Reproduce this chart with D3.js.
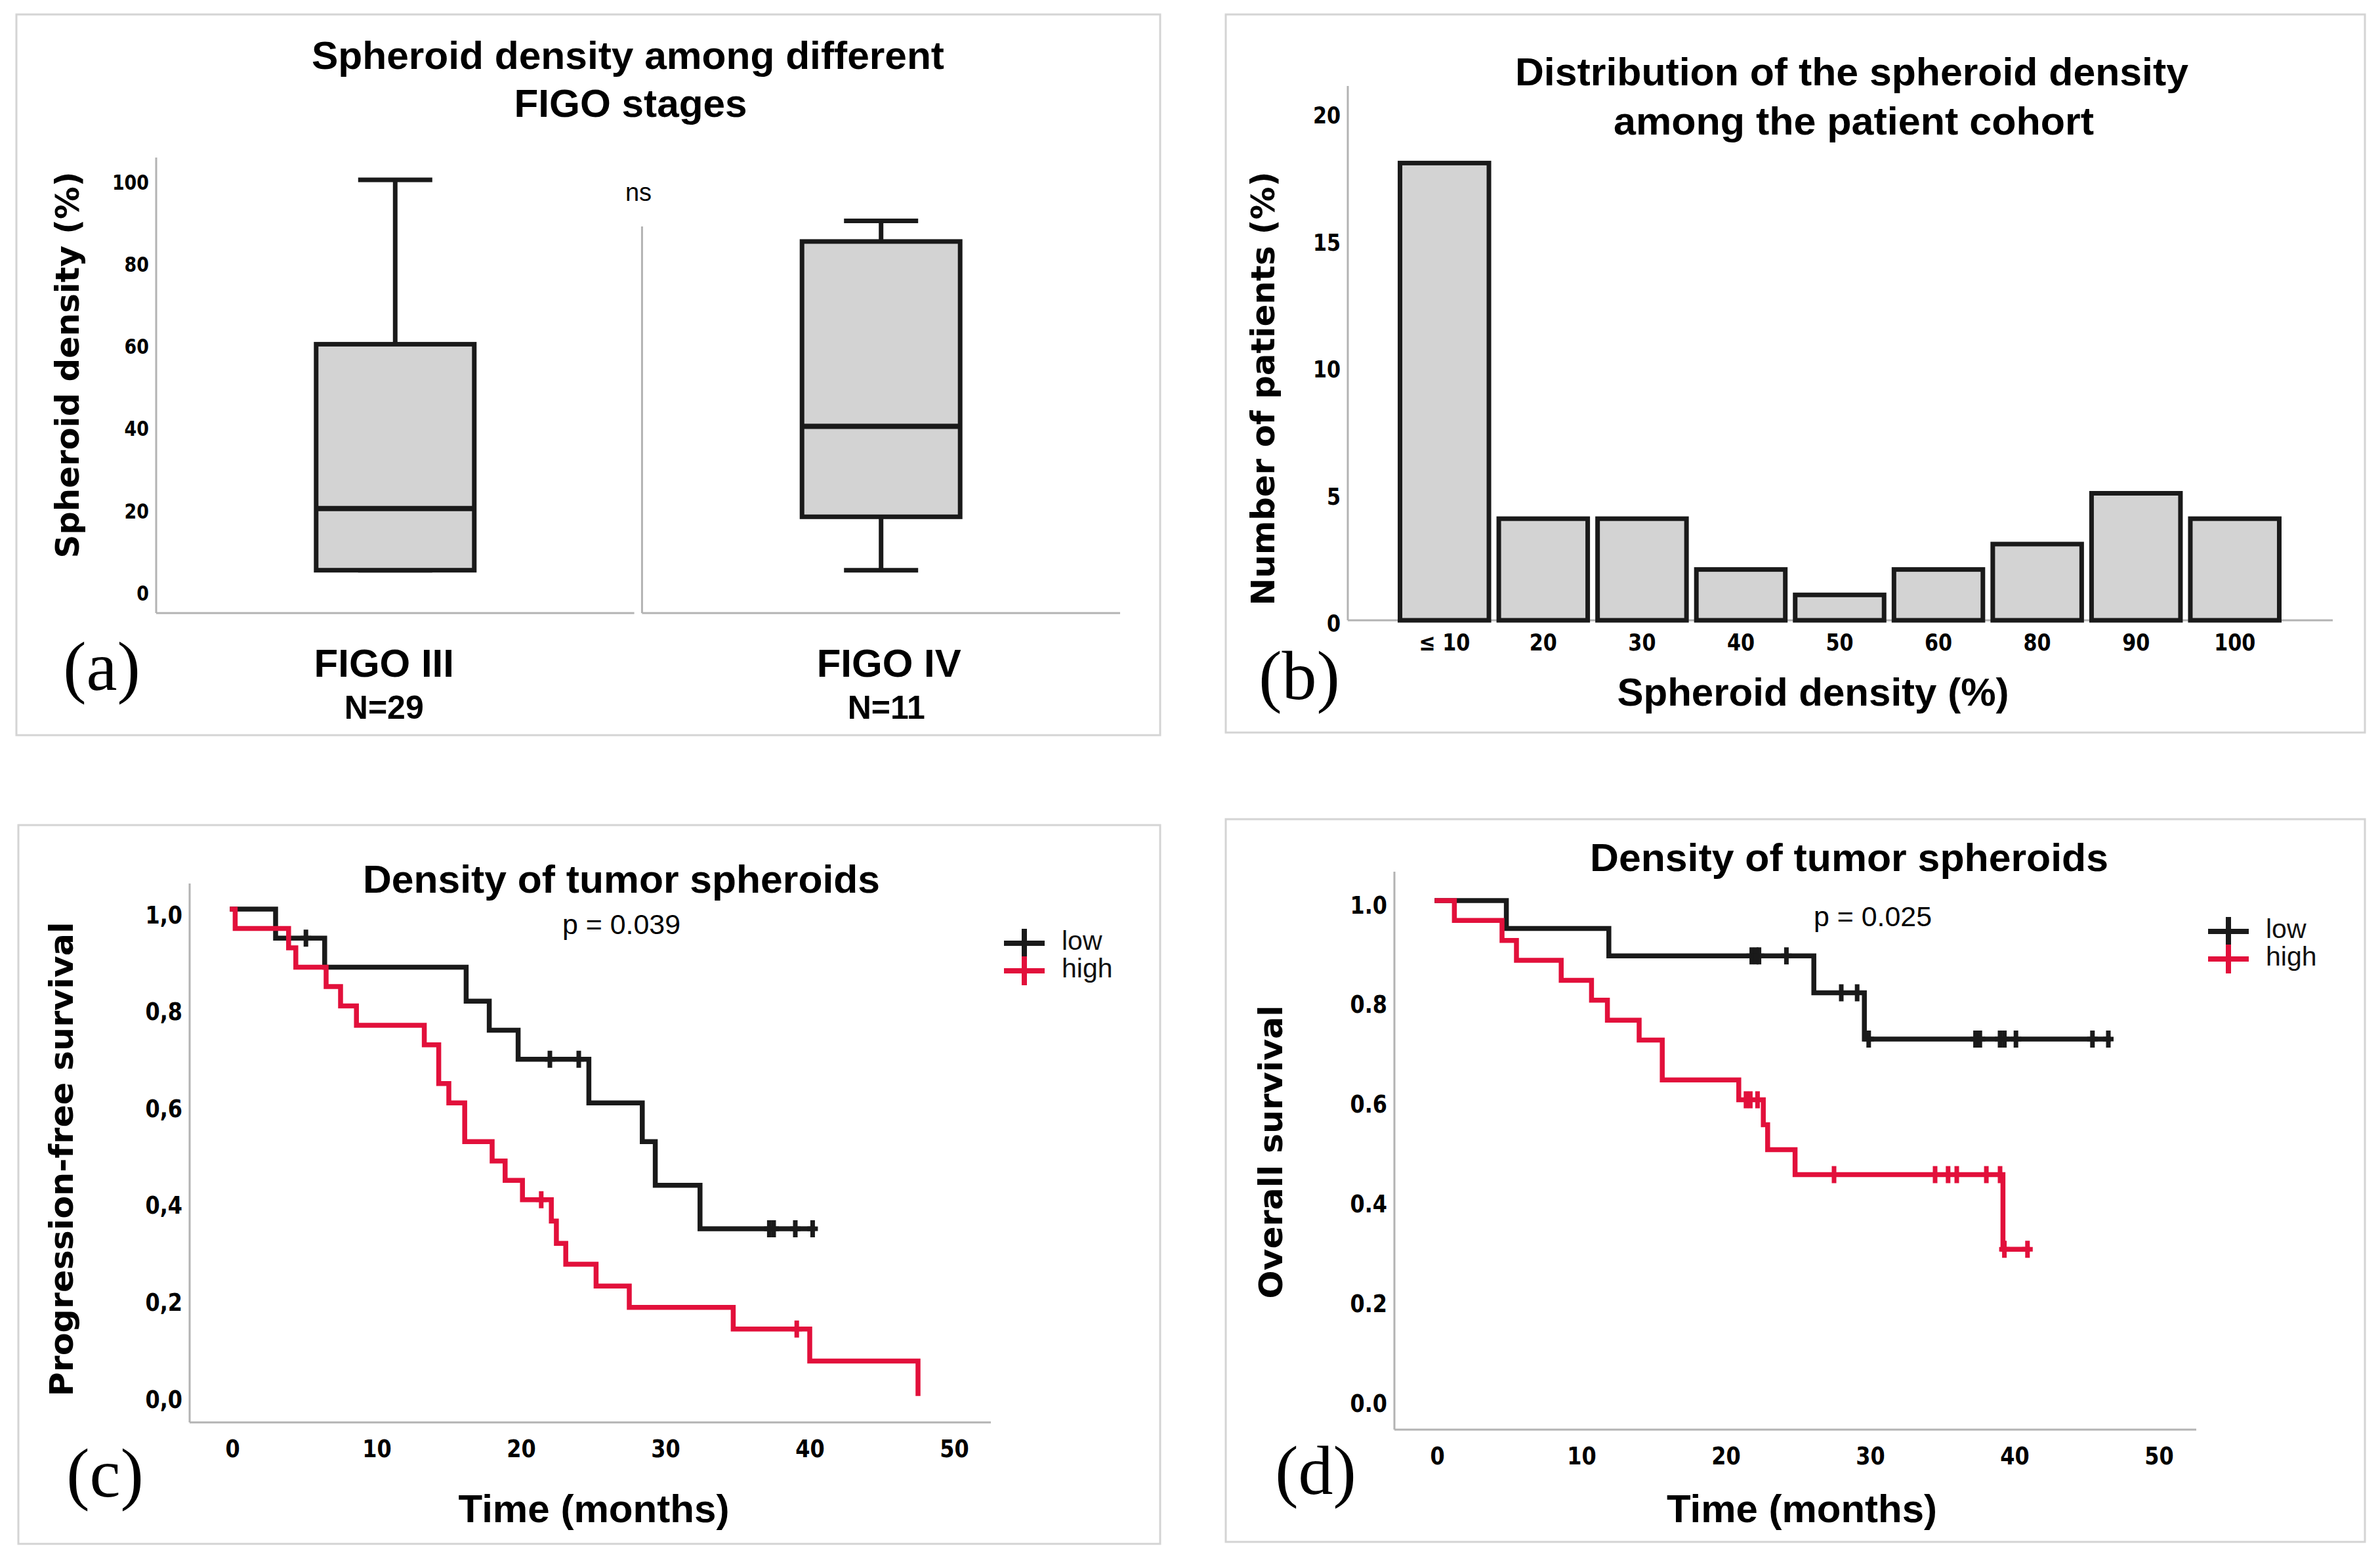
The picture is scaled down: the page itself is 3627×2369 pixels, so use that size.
<!DOCTYPE html>
<html>
<meta charset="utf-8">
<script src="https://d3js.org/d3.v7.min.js"></script>
<style>
  body { margin: 0; background: #fff; }
</style>
<body>
<div id="chart"></div>
<script>
// ---- values ----
// (a) box plot
var figoStages = ["FIGO III", "FIGO IV"];
var figoCounts = ["N=29", "N=11"];
var boxMin = [5, 5];
var boxQ1 = [5, 18];
var boxMedian = [20, 40];
var boxQ3 = [60, 85];
var boxMax = [100, 90];
var densityTicks = [0, 20, 40, 60, 80, 100];

// (b) histogram
var densityBins = ["\u2264 10", "20", "30", "40", "50", "60", "80", "90", "100"];
var patientCounts = [18, 4, 4, 2, 1, 2, 3, 5, 4];
var countTicks = [0, 5, 10, 15, 20];

// (c), (d) Kaplan-Meier
var groups = ["low", "high"];
var timeTicks = [0, 10, 20, 30, 40, 50];
var survivalTicks = [0, 0.2, 0.4, 0.6, 0.8, 1.0];

var pfsLowTimes = [3.0, 6.4, 16.2, 17.8, 19.8, 24.7, 28.4, 29.3, 32.4];
var pfsLowSurv = [0.94, 0.88, 0.81, 0.75, 0.69, 0.60, 0.52, 0.43, 0.34];
var pfsLowCensor = [5.1, 22.0, 24.0, 37.2, 37.5, 39.0, 40.2];

var pfsHighTimes = [0.2, 3.9, 4.4, 6.5, 7.5, 8.6, 13.3, 14.3, 15.0, 16.1, 18.0, 18.9, 20.1, 22.1, 22.45, 23.1, 25.2, 27.5, 34.7, 40.0, 47.5];
var pfsHighSurv = [0.96, 0.92, 0.88, 0.84, 0.80, 0.76, 0.72, 0.64, 0.60, 0.52, 0.48, 0.44, 0.40, 0.356, 0.31, 0.267, 0.222, 0.178, 0.133, 0.067, 0.0];
var pfsHighCensor = [21.4, 39.1];

var osLowTimes = [4.8, 11.9, 26.1, 29.6];
var osLowSurv = [0.944, 0.889, 0.815, 0.722];
var osLowCensor = [21.8, 22.1, 22.3, 24.2, 28.0, 29.1, 29.9, 37.3, 37.6, 39.0, 39.3, 40.1, 45.4, 46.5];

var osHighTimes = [1.2, 4.5, 5.5, 8.6, 10.7, 11.8, 14.0, 15.6, 20.9, 22.6, 22.9, 24.8, 39.2];
var osHighSurv = [0.96, 0.92, 0.88, 0.84, 0.80, 0.76, 0.72, 0.64, 0.60, 0.55, 0.50, 0.45, 0.30];
var osHighCensor = [21.4, 21.7, 22.2, 27.5, 34.5, 35.4, 36.0, 38.05, 39.0, 39.3, 40.9];

// ---- drawing ----
var W = 3627, H = 2369;
var SANS = "'Liberation Sans', Arial, sans-serif";
var WIDE = "'DejaVu Sans', Verdana, sans-serif";
var SERIF = "'Liberation Serif', 'Times New Roman', serif";
var AXIS = "#b3b3b3";
var FRAME = "#d4d4d4";
var FILL = "#d3d3d3";
var INK = "#1a1a1a";
var RED = "#e2103b";

var svg = d3.select("#chart").append("svg").attr("width", W).attr("height", H);
svg.append("rect").attr("width", W).attr("height", H).attr("fill", "#fff");

function frame(x0, y0, x1, y1) {
  svg.append("rect").attr("x", x0).attr("y", y0)
    .attr("width", x1 - x0).attr("height", y1 - y0)
    .attr("fill", "none").attr("stroke", FRAME).attr("stroke-width", 3);
}
function line(x0, y0, x1, y1, color, w) {
  svg.append("line").attr("x1", x0).attr("y1", y0).attr("x2", x1).attr("y2", y1)
    .attr("stroke", color || AXIS).attr("stroke-width", w || 3);
}
function txt(x, y, s, size, family, weight, width) {
  var t = svg.append("text").attr("x", x).attr("y", y)
    .attr("font-family", family).attr("font-size", size)
    .attr("font-weight", weight || "normal")
    .attr("text-anchor", "middle").attr("dominant-baseline", "central")
    .attr("fill", "#000").text(s);
  if (width) t.attr("textLength", width).attr("lengthAdjust", "spacingAndGlyphs");
  return t;
}
function ytitle(x, y, s, width) {
  txt(0, 0, s, 50, WIDE, "bold", width).attr("transform", "translate(" + x + "," + y + ") rotate(-90)");
}
function letter(x, y, s) {
  svg.append("text").attr("x", x).attr("y", y).attr("text-anchor", "middle")
    .attr("font-family", SERIF).attr("font-size", 106).text(s);
}
// tick labels: tall, slightly condensed bold
function styleAxis(g, size) {
  g.select(".domain").remove();
  g.selectAll("text").attr("font-family", WIDE).attr("font-weight", "bold")
    .attr("font-size", size).attr("fill", "#000")
    .each(function () {
      var len = this.getComputedTextLength();
      d3.select(this).attr("textLength", len * 0.84).attr("lengthAdjust", "spacingAndGlyphs");
    });
}

// ===== (a) =====
frame(25, 22, 1768, 1120);
txt(957, 84, "Spheroid density among different", 60, SANS, "bold", 964);
txt(961, 157, "FIGO stages", 60, SANS, "bold", 355);
ytitle(103, 556, "Spheroid density (%)", 589);

var aX = d3.scaleBand().domain(figoStages).range([238, 1707]).paddingInner(0.016);
var aY = d3.scaleLinear().domain([0, 100]).range([900, 274]);
var aTop = [240, 345];
var aLabelDx = [-17, 12];
figoStages.forEach(function (s, i) {
  var x0 = aX(s), x1 = x0 + aX.bandwidth();
  line(x0, aTop[i], x0, 934);
  line(x0, 934, x1, 934);
});
var gA = svg.append("g").attr("transform", "translate(238,4)")
  .call(d3.axisLeft(aY).tickValues(densityTicks).tickSize(0).tickPadding(11));
styleAxis(gA, 32);

var boxW = 241, capW = 113;
figoStages.forEach(function (s, i) {
  var cx = aX(s) + aX.bandwidth() / 2;
  line(cx, aY(boxMax[i]), cx, aY(boxQ3[i]), INK, 7);
  line(cx, aY(boxQ1[i]), cx, aY(boxMin[i]), INK, 7);
  line(cx - capW / 2, aY(boxMax[i]), cx + capW / 2, aY(boxMax[i]), INK, 7);
  line(cx - capW / 2, aY(boxMin[i]), cx + capW / 2, aY(boxMin[i]), INK, 7);
  svg.append("rect").attr("x", cx - boxW / 2).attr("y", aY(boxQ3[i]))
    .attr("width", boxW).attr("height", aY(boxQ1[i]) - aY(boxQ3[i]))
    .attr("fill", FILL).attr("stroke", INK).attr("stroke-width", 7);
  line(cx - boxW / 2, aY(boxMedian[i]), cx + boxW / 2, aY(boxMedian[i]), INK, 8);
  txt(cx + aLabelDx[i], 1010, s, 60, SANS, "bold");
  txt(cx + aLabelDx[i] - 4 * i, 1078, figoCounts[i], 50, SANS, "bold");
});
txt(973, 293, "ns", 38, SANS, "normal");
letter(155, 1051, "(a)");

// ===== (b) =====
frame(1868, 22, 3604, 1116);
txt(2822, 109, "Distribution of the spheroid density", 60, SANS, "bold", 1026);
txt(2825, 184, "among the patient cohort", 60, SANS, "bold", 732);
ytitle(1925, 592, "Number of patients (%)", 661);

var bX = d3.scaleBand().domain(densityBins).range([2126, 3481]).paddingInner(0.1).paddingOuter(0.05);
var bY = d3.scaleLinear().domain([0, 20]).range([945, 171]);
line(2054, 131, 2054, 945);
line(2054, 945, 3555, 945);
var gB = svg.append("g").attr("transform", "translate(2054,5)")
  .call(d3.axisLeft(bY).tickValues(countTicks).tickSize(0).tickPadding(11));
styleAxis(gB, 36);

svg.append("g").selectAll("rect").data(patientCounts).join("rect")
  .attr("x", function (d, i) { return bX(densityBins[i]); })
  .attr("y", function (d) { return bY(d); })
  .attr("width", bX.bandwidth())
  .attr("height", function (d) { return bY(0) - bY(d); })
  .attr("fill", FILL).attr("stroke", INK).attr("stroke-width", 7);

var gBx = svg.append("g").attr("transform", "translate(0,945)")
  .call(d3.axisBottom(bX).tickSize(0));
styleAxis(gBx, 36);
gBx.selectAll("text").attr("y", 33).attr("dy", "0.35em");
txt(2763, 1054, "Spheroid density (%)", 60, SANS, "bold", 597);
letter(1980, 1065, "(b)");

// ===== Kaplan-Meier panels =====
function kmPoints(times, surv, endT) {
  var pts = [[0, 1]];
  times.forEach(function (t, i) { pts.push([t, surv[i]]); });
  if (endT > times[times.length - 1]) pts.push([endT, surv[surv.length - 1]]);
  return pts;
}
function survAt(times, surv, t) {
  var i = d3.bisectRight(times, t);
  return i === 0 ? 1 : surv[i - 1];
}
function drawKM(x, y, times, surv, censor, color) {
  var endT = Math.max(d3.max(times), d3.max(censor));
  var path = d3.line().x(function (d) { return x(d[0]); }).y(function (d) { return y(d[1]); })
    .curve(d3.curveStepAfter);
  svg.append("path").datum(kmPoints(times, surv, endT)).attr("d", path)
    .attr("fill", "none").attr("stroke", color).attr("stroke-width", 7.5)
    .attr("stroke-linejoin", "miter").attr("stroke-linecap", "square");
  svg.append("g").selectAll("path").data(censor).join("path")
    .attr("transform", function (t) { return "translate(" + x(t) + "," + y(survAt(times, surv, t)) + ")"; })
    .attr("d", "M0,-13V13M-8,0H8").attr("stroke", color).attr("stroke-width", 7);
}
function legend(x, y) {
  [INK, RED].forEach(function (c, i) {
    var yy = y + i * 42;
    svg.append("path").attr("transform", "translate(" + x + "," + yy + ")")
      .attr("d", "M-31,0H31M0,-22V22").attr("stroke", c).attr("stroke-width", 8);
    svg.append("text").attr("x", x + 57).attr("y", yy - 4).attr("dominant-baseline", "central")
      .attr("font-family", SANS).attr("font-size", 41).attr("fill", "#111").text(groups[i]);
  });
}
function kmAxes(x, y, ax0, ay0, ayTop, axEnd, fmt, dy) {
  line(ax0, ayTop, ax0, ay0);
  line(ax0, ay0, axEnd, ay0);
  var gy = svg.append("g").attr("transform", "translate(" + ax0 + "," + dy + ")")
    .call(d3.axisLeft(y).tickValues(survivalTicks).tickSize(0).tickPadding(11).tickFormat(fmt));
  styleAxis(gy, 38);
  var gx = svg.append("g").attr("transform", "translate(0," + ay0 + ")")
    .call(d3.axisBottom(x).tickValues(timeTicks).tickSize(0).tickFormat(d3.format("d")));
  styleAxis(gx, 38);
  gx.selectAll("text").attr("y", 40).attr("dy", "0.35em");
}

// ===== (c) =====
frame(28, 1257, 1768, 2352);
txt(947, 1339, "Density of tumor spheroids", 60, SANS, "bold", 788);
txt(947, 1408, "p = 0.039", 42, SANS, "normal", 180);
ytitle(94, 1766, "Progression-free survival", 723);
var cX = d3.scaleLinear().domain([0, 50]).range([354, 1454]);
var cY = d3.scaleLinear().domain([0, 1]).range([2123, 1385]);
kmAxes(cX, cY, 289, 2167, 1346, 1510, function (d) { return d3.format(".1f")(d).replace(".", ","); }, 9);
drawKM(cX, cY, pfsLowTimes, pfsLowSurv, pfsLowCensor, INK);
drawKM(cX, cY, pfsHighTimes, pfsHighSurv, pfsHighCensor, RED);
legend(1561, 1437);
txt(905, 2298, "Time (months)", 60, SANS, "bold", 413);
letter(160, 2280, "(c)");

// ===== (d) =====
frame(1868, 1248, 3604, 2349);
txt(2818, 1306, "Density of tumor spheroids", 60, SANS, "bold", 790);
txt(2854, 1396, "p = 0.025", 42, SANS, "normal", 180);
ytitle(1937, 1755, "Overall survival", 447);
var dX = d3.scaleLinear().domain([0, 50]).range([2190, 3290]);
var dY = d3.scaleLinear().domain([0, 1]).range([2131, 1372]);
kmAxes(dX, dY, 2125, 2178, 1328, 3347, d3.format(".1f"), 7);
drawKM(dX, dY, osLowTimes, osLowSurv, osLowCensor, INK);
drawKM(dX, dY, osHighTimes, osHighSurv, osHighCensor, RED);
legend(3396, 1419);
txt(2746, 2298, "Time (months)", 60, SANS, "bold", 412);
letter(2005, 2276, "(d)");
</script>
</body>
</html>
